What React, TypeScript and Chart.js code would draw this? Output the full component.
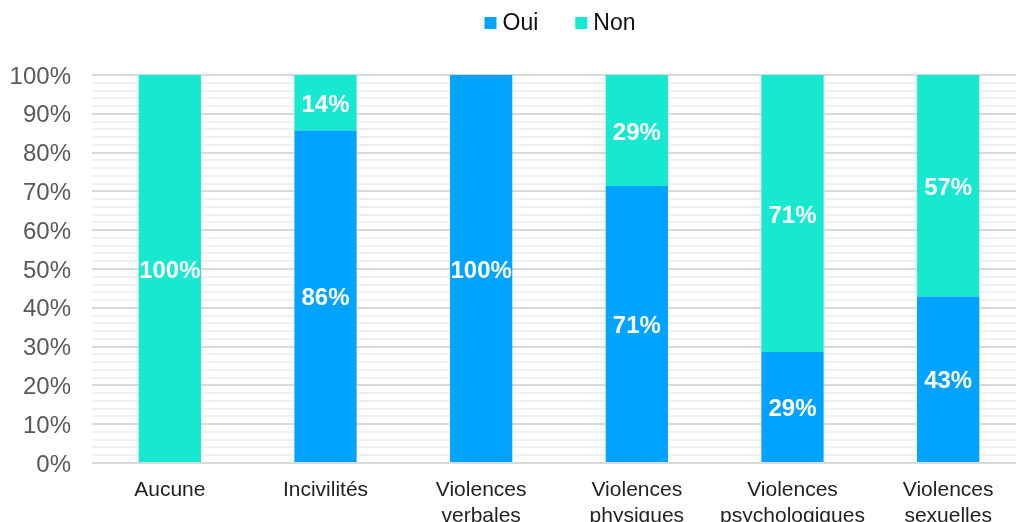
import React, { useEffect, useRef } from 'react';
import { Chart, registerables } from 'chart.js';

Chart.register(...registerables);

const categories: (string | string[])[] = [
  'Aucune',
  'Incivilités',
  ['Violences', 'verbales'],
  ['Violences', 'physiques'],
  ['Violences', 'psychologiques'],
  ['Violences', 'sexuelles'],
];
const seriesNames = ['Oui', 'Non'];
const ouiValues = [0, 85.7, 100, 71.4, 28.6, 42.9];
const nonValues = [100, 14.3, 0, 28.6, 71.4, 57.1];
const seriesColors = ['#00A3FF', '#17E8D0'];
const yMin = 0;
const yMax = 100;
const yMinorStep = 2;
const yLabelStep = 10;

const FONT = "'Liberation Sans', Arial, sans-serif";

const CANVAS_W = 1030;
const CANVAS_H = 540;

const dataLabelPlugin = {
  id: 'dataLabels',
  afterDatasetsDraw(chart: any) {
    const ctx = chart.ctx;
    ctx.save();
    ctx.font = `bold 24px ${FONT}`;
    ctx.fillStyle = '#ffffff';
    ctx.textAlign = 'center';
    ctx.textBaseline = 'middle';
    chart.data.datasets.forEach((ds: any, di: number) => {
      const meta = chart.getDatasetMeta(di);
      meta.data.forEach((el: any, i: number) => {
        const v = ds.data[i];
        if (!v) return;
        const y = (el.y + el.base) / 2 + 2.5;
        ctx.fillText(`${Math.round(v)}%`, el.x, y);
      });
    });
    ctx.restore();
  },
};

const legendPlugin = {
  id: 'customLegend',
  afterDraw(chart: any) {
    const ctx = chart.ctx;
    const ca = chart.chartArea;
    ctx.save();
    ctx.font = `23px ${FONT}`;
    const box = 12;
    const gap = 6;
    const itemGap = 37;
    const items = chart.data.datasets.map((d: any) => ({
      label: d.label,
      color: d.backgroundColor,
      w: ctx.measureText(d.label).width,
    }));
    const total =
      items.reduce((s: number, it: any) => s + box + gap + it.w, 0) +
      itemGap * (items.length - 1);
    let x = (ca.left + ca.right) / 2 - total / 2 + 1;
    const cy = 23;
    items.forEach((it: any) => {
      ctx.fillStyle = it.color;
      ctx.fillRect(x, cy - 6, box, box);
      x += box + gap;
      ctx.fillStyle = '#111111';
      ctx.textBaseline = 'middle';
      ctx.textAlign = 'left';
      ctx.fillText(it.label, x, cy + 1);
      x += it.w + itemGap;
    });
    ctx.restore();
  },
};

export default function App() {
  const canvasRef = useRef<HTMLCanvasElement | null>(null);

  useEffect(() => {
    if (!canvasRef.current) return;
    const chart = new Chart(canvasRef.current, {
      type: 'bar',
      data: {
        labels: categories as any,
        datasets: [
          {
            label: seriesNames[0],
            data: ouiValues,
            backgroundColor: seriesColors[0],
            borderWidth: 0,
          },
          {
            label: seriesNames[1],
            data: nonValues,
            backgroundColor: seriesColors[1],
            borderWidth: 0,
          },
        ],
      },
      options: {
        animation: false,
        responsive: false,
        devicePixelRatio: 1,
        layout: { padding: { top: 75, left: 0, right: 4, bottom: 0 } },
        datasets: {
          bar: { categoryPercentage: 1, barPercentage: 0.4 },
        },
        plugins: {
          legend: { display: false },
          tooltip: { enabled: false },
          title: { display: false },
        },
        scales: {
          x: {
            stacked: true,
            grid: { display: false, drawTicks: false },
            border: { display: false },
            ticks: {
              font: { family: FONT, size: 21, lineHeight: 1.2 },
              color: '#222222',
              padding: 15,
              maxRotation: 0,
              autoSkip: false,
            },
            afterFit(scale: any) {
              scale.height = CANVAS_H - 463;
            },
          },
          y: {
            stacked: true,
            min: yMin,
            max: yMax,
            border: { display: false },
            grid: {
              drawTicks: false,
              lineWidth: 2,
              color: (c: any) =>
                c.tick && c.tick.value % yLabelStep === 0 ? '#d9d9d9' : '#f0f0f0',
            },
            ticks: {
              stepSize: yMinorStep,
              maxTicksLimit: 60,
              autoSkip: false,
              padding: 21,
              labelOffset: 2,
              font: { family: FONT, size: 24 },
              color: '#595959',
              callback: (v: any) => (Number(v) % yLabelStep === 0 ? `${v}%` : ''),
            },
            afterFit(scale: any) {
              scale.width = 92;
            },
          },
        },
      },
      plugins: [dataLabelPlugin, legendPlugin],
    });
    return () => chart.destroy();
  }, []);

  return (
    <div
      style={{
        position: 'fixed',
        left: 0,
        top: 0,
        width: 1016,
        height: 522,
        overflow: 'hidden',
        background: '#ffffff',
      }}
    >
      <canvas
        ref={canvasRef}
        width={CANVAS_W}
        height={CANVAS_H}
        style={{ display: 'block', width: CANVAS_W, height: CANVAS_H }}
      />
    </div>
  );
}
